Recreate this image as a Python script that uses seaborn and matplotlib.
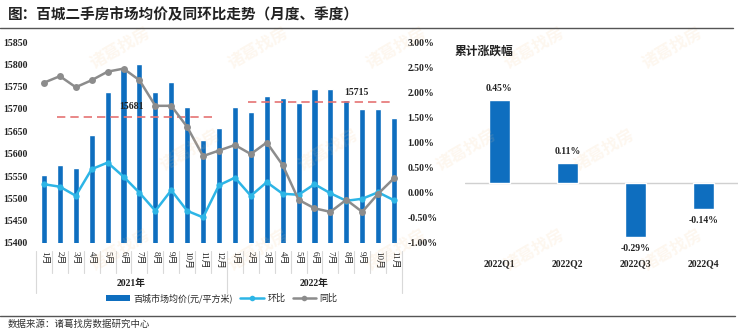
import numpy as np
import pandas as pd
import matplotlib
matplotlib.use("Agg")
import matplotlib.pyplot as plt
import seaborn as sns
from matplotlib.patches import Patch
from matplotlib.lines import Line2D
from matplotlib.transforms import blended_transform_factory

sns.set_theme(style="white")
CJK = "Noto Sans CJK SC"
SERIF = ["Liberation Serif", CJK]
plt.rcParams["font.family"] = [CJK, "DejaVu Sans"]
plt.rcParams["axes.unicode_minus"] = False

# ---- data -------------------------------------------------------------
months_2021 = ["1月", "2月", "3月", "4月", "5月", "6月", "7月", "8月", "9月", "10月", "11月", "12月"]
months_2022 = ["1月", "2月", "3月", "4月", "5月", "6月", "7月", "8月", "9月", "10月", "11月"]
years = ["2021年", "2022年"]

price_2021 = [15553, 15574, 15567, 15641, 15738, 15792, 15801, 15739, 15761, 15705, 15631, 15657]
price_2022 = [15704, 15694, 15728, 15724, 15714, 15745, 15744, 15720, 15699, 15701, 15679]

mom_2021 = [0.17, 0.12, -0.06, 0.47, 0.60, 0.32, 0.00, -0.36, 0.05, -0.36, -0.49, 0.15]
mom_2022 = [0.30, -0.06, 0.21, -0.02, -0.04, 0.17, -0.01, -0.16, -0.12, 0.01, -0.15]

yoy_2021 = [2.19, 2.32, 2.10, 2.24, 2.41, 2.47, 2.24, 1.73, 1.73, 1.31, 0.73, 0.84]
yoy_2022 = [0.95, 0.77, 1.00, 0.55, -0.14, -0.31, -0.38, -0.14, -0.38, -0.02, 0.29]

avg_2021 = 15681
avg_2022 = 15715

quarters = ["2022Q1", "2022Q2", "2022Q3", "2022Q4"]
quarter_change = [0.45, 0.11, -0.29, -0.14]

# ---- styling ----------------------------------------------------------
BLUE = "#0E6EBF"
CYAN = "#2DB5E6"
GRAY = "#8C8C8C"
RED = "#E57373"
TXT = "#222222"
W, H = 740, 334

months = months_2021 + months_2022
df = pd.DataFrame({
    "idx": np.arange(len(months)),
    "price": price_2021 + price_2022,
    "mom": mom_2021 + mom_2022,
    "yoy": yoy_2021 + yoy_2022,
})

fig = plt.figure(figsize=(W / 100, H / 100), dpi=100)


def fx(px):
    return px / W


def fy(py):
    return 1 - py / H


# ---- watermark ---------------------------------------------------------
for row, yy in enumerate([48, 150, 250]):
    shift = 0 if row % 2 == 0 else 70
    for xx in [120, 258, 396, 534, 672]:
        if xx + shift > 700:
            continue
        fig.text(fx(xx + shift), fy(yy), "诸葛找房", rotation=30, fontsize=12,
                 color="#F6C58E", alpha=0.14, ha="center", va="center",
                 fontweight="bold", zorder=0)

# ---- left: monthly price with MoM / YoY ---------------------------------
ax = fig.add_axes([fx(36), fy(243), fx(402 - 36), (243 - 42) / H])
ax.patch.set_alpha(0)
sns.barplot(data=df, x="idx", y="price", native_scale=True, width=0.38,
            color=BLUE, saturation=1, ax=ax, zorder=2)
ax.set_xlim(-0.5, len(months) - 0.5)
ax.set_ylim(15400, 15850)
ax.set_yticks(np.arange(15400, 15851, 50))
ax.set_yticklabels([f"{v}" for v in range(15400, 15851, 50)],
                   family=SERIF, fontsize=7, fontweight="bold", color=TXT)
ax.set_xticks(df["idx"])
ax.set_xticklabels(months, rotation=-90, family=SERIF, fontsize=6.5, color=TXT)
ax.tick_params(axis="both", length=0)
ax.tick_params(axis="x", pad=6)
ax.tick_params(axis="y", pad=6)
ax.set_xlabel("")
ax.set_ylabel("")
for s in ax.spines.values():
    s.set_visible(False)

# yearly averages
ax.hlines(avg_2021, 0.82, 10.75, colors=RED, linestyles=(0, (5, 3)), lw=1.2, zorder=3)
ax.hlines(avg_2022, 12.83, 21.95, colors=RED, linestyles=(0, (5, 3)), lw=1.2, zorder=3)
ax.annotate(f"{avg_2021}", xy=(5.5, avg_2021), xytext=(0, 8), textcoords="offset points",
            ha="center", va="center", family=SERIF, fontsize=7, fontweight="bold", color=TXT)
ax.annotate(f"{avg_2022}", xy=(19.65, avg_2022), xytext=(0, 7), textcoords="offset points",
            ha="center", va="center", family=SERIF, fontsize=7, fontweight="bold", color=TXT)

# category boxes below the month labels
trans = blended_transform_factory(ax.transData, ax.transAxes)
for k in range(len(months) + 1):
    b = k - 0.5
    if b in (-0.5, 11.5, len(months) - 0.5):
        ax.plot([b, b], [-0.04, -0.25], transform=trans, color="#D9D9D9", lw=0.8, clip_on=False)
    else:
        ax.plot([b, b], [-0.04, -0.15], transform=trans, color="#D9D9D9", lw=0.8, clip_on=False)
ax.text(5.5, -0.2, years[0], transform=trans, ha="center", va="center",
        family=SERIF, fontsize=7, fontweight="bold", color=TXT)
ax.text(17.0, -0.2, years[1], transform=trans, ha="center", va="center",
        family=SERIF, fontsize=7, fontweight="bold", color=TXT)

ax2 = ax.twinx()
sns.lineplot(data=df, x="idx", y="mom", ax=ax2, color=CYAN, lw=1.8,
             marker="o", markersize=4.5, markeredgewidth=0)
sns.lineplot(data=df, x="idx", y="yoy", ax=ax2, color=GRAY, lw=1.8,
             marker="o", markersize=5, markeredgewidth=0)
ax2.set_ylim(-1.0, 3.0)
pct_ticks = np.arange(-1.0, 3.01, 0.5)
ax2.set_yticks(pct_ticks)
ax2.set_yticklabels([f"{v:.2f}%" for v in pct_ticks], family=SERIF, fontsize=7,
                    fontweight="bold", color=TXT)
ax2.tick_params(axis="y", length=0, pad=4)
ax2.set_ylabel("")
ax2.set_xlim(-0.5, len(months) - 0.5)
for s in ax2.spines.values():
    s.set_visible(False)

handles = [
    Patch(facecolor=BLUE, edgecolor="none"),
    Line2D([0], [0], color=CYAN, lw=1.8, marker="o", markersize=4, markeredgewidth=0),
    Line2D([0], [0], color=GRAY, lw=1.8, marker="o", markersize=4, markeredgewidth=0),
]
fig.legend(handles, ["百城市场均价(元/平方米)", "环比", "同比"], loc="center",
           bbox_to_anchor=(fx(222), fy(298)), ncol=3, frameon=False, fontsize=6.5,
           handlelength=2.6, handleheight=0.6, handletextpad=0.4, columnspacing=0.8)

# ---- right: quarterly cumulative change --------------------------------
ax3 = fig.add_axes([fx(465), fy(243), fx(738 - 465), (243 - 42) / H])
ax3.patch.set_alpha(0)
sns.barplot(x=quarters, y=quarter_change, color=BLUE, saturation=1, width=0.31, ax=ax3)
ax3.axhline(0, color="#D0D0D0", lw=1.0, zorder=0)
ax3.set_ylim(-(243 - 183) / 185, (183 - 42) / 185)
ax3.set_xlim(-0.5, len(quarters) - 0.5)
ax3.set_yticks([])
ax3.tick_params(axis="x", length=0, pad=12)
ax3.set_xticklabels(quarters, family=SERIF, fontsize=7, fontweight="bold", color=TXT)
for s in ax3.spines.values():
    s.set_visible(False)
for i, v in enumerate(quarter_change):
    ax3.annotate(f"{v:.2f}%", xy=(i, v), xytext=(0, 5 if v > 0 else -5),
                 textcoords="offset points", ha="center",
                 va="bottom" if v > 0 else "top", family=SERIF, fontsize=7,
                 fontweight="bold", color=TXT)

fig.text(fx(455), fy(51), "累计涨跌幅", ha="left", va="center", fontsize=8.5,
         fontweight="bold", color=TXT)

# ---- title, rules, source ---------------------------------------------
fig.text(fx(8), fy(14), "图：百城二手房市场均价及同环比走势（月度、季度）", ha="left",
         va="center", fontsize=10.5, fontweight="bold", color=TXT)
fig.add_artist(Line2D([0, fx(733)], [fy(28), fy(28)], color="#555555", lw=1.0))
fig.add_artist(Line2D([0, fx(735)], [fy(316), fy(316)], color="#555555", lw=1.0))
fig.text(fx(8), fy(324), "数据来源：诸葛找房数据研究中心", ha="left", va="center",
         fontsize=6.8, color="#333333")

fig.savefig("out.png", dpi=100)
